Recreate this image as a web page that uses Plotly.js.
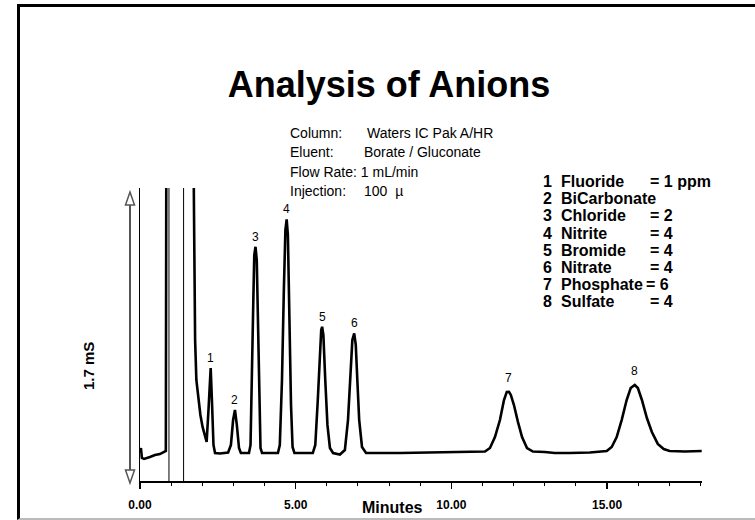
<!DOCTYPE html>
<html>
<head>
<meta charset="utf-8">
<script src="https://cdn.plot.ly/plotly-3.0.1.min.js"></script>
<style>
  html, body { margin: 0; padding: 0; background: #fff; }
  #wrap { position: relative; width: 755px; height: 520px; }
  #chart { width: 755px; height: 520px; }
  #frame { position: absolute; left: 17px; top: 4px; width: 738px; height: 516px;
           border-left: 3px solid #000; border-top: 3px solid #000; border-bottom: 2px solid #bbb;
           box-sizing: border-box; pointer-events: none; }
</style>
</head>
<body>
<div id="wrap"><div id="chart"></div><div id="frame"></div></div>
<script>
// ---- data (minutes, mS) ----
const time = [0, 0.03, 0.06, 0.13, 0.32, 0.48, 0.64, 0.80, 0.83, 0.85,
  1.70, 1.73, 1.75, 1.77, 1.81, 1.87, 1.94, 2.01, 2.09, 2.14,
  2.20, 2.27, 2.31, 2.36, 2.41, 2.57, 2.83,
  2.92, 2.99, 3.05, 3.11, 3.18, 3.24, 3.50,
  3.55, 3.60, 3.64, 3.67, 3.71, 3.75, 3.79, 3.82, 3.87, 3.92, 4.43,
  4.49, 4.56, 4.62, 4.67, 4.71, 4.75, 4.80, 4.85, 4.90, 4.96, 5.55,
  5.63, 5.71, 5.78, 5.82, 5.85, 5.89, 5.95, 6.02, 6.10, 6.20, 6.42,
  6.58, 6.68, 6.76, 6.82, 6.88, 6.93, 6.98, 7.04, 7.13, 7.26,
  8.35, 9.63, 10.59, 11.08,
  11.24, 11.40, 11.56, 11.69, 11.78, 11.85, 11.91, 12.01, 12.14, 12.27, 12.43, 12.62,
  13.00, 13.32, 13.80, 14.45, 14.99,
  15.15, 15.31, 15.47, 15.63, 15.76, 15.89, 15.99, 16.12, 16.28, 16.44, 16.63, 16.82, 17.01,
  17.50, 18.04];
const signal = [0.166, 0.196, 0.137, 0.131, 0.143, 0.154, 0.160, 0.172, 0.178, 2.5,
  2.5, 1.70, 1.312, 0.837, 0.600, 0.499, 0.392, 0.321, 0.255, 0.232,
  0.422, 0.671, 0.481, 0.214, 0.166, 0.163, 0.169,
  0.214, 0.362, 0.422, 0.333, 0.196, 0.166, 0.166,
  0.214, 0.600, 1.075, 1.342, 1.391, 1.312, 0.956, 0.481, 0.196, 0.166, 0.166,
  0.214, 0.600, 1.134, 1.490, 1.554, 1.461, 0.956, 0.451, 0.202, 0.166, 0.166,
  0.214, 0.481, 0.778, 0.897, 0.916, 0.867, 0.600, 0.333, 0.196, 0.166, 0.157,
  0.184, 0.362, 0.659, 0.837, 0.877, 0.808, 0.600, 0.362, 0.202, 0.166,
  0.166, 0.172, 0.175, 0.175,
  0.196, 0.261, 0.362, 0.481, 0.529, 0.530, 0.511, 0.451, 0.350, 0.261, 0.196, 0.175,
  0.172, 0.166, 0.166, 0.169, 0.178,
  0.202, 0.261, 0.362, 0.481, 0.552, 0.570, 0.552, 0.481, 0.374, 0.291, 0.220, 0.190, 0.178,
  0.175, 0.178];

const peakTimes   = [2.27, 3.05, 3.71, 4.71, 5.85, 6.88, 11.85, 15.89];
const peakSignals = [0.671, 0.422, 1.391, 1.554, 0.916, 0.877, 0.530, 0.570];
const peakLabels  = ['1', '2', '3', '4', '5', '6', '7', '8'];

const markerTimes = [0.93, 1.40];

const tickVals = [0, 5, 10, 15];
const tickText = ['0.00', '5.00', '10.00', '15.00'];

const infoLabels = ['Column:', 'Eluent:', 'Flow Rate: 1 mL/min', 'Injection:'];
const infoValues = ['Waters IC Pak A/HR', 'Borate / Gluconate', '', '100  µ'];

const ionNums  = ['1', '2', '3', '4', '5', '6', '7', '8'];
const ionNames = ['Fluoride', 'BiCarbonate', 'Chloride', 'Nitrite', 'Bromide', 'Nitrate', 'Phosphate', 'Sulfate'];
const ionConc  = ['= 1 ppm', '', '= 2', '= 4', '= 4', '= 4', '= 6', '= 4'];

// ---- layout helpers (pixel -> paper) ----
const L = 140, R = 702, T = 188, B = 481;
const px = v => (v - L) / (R - L);
const py = v => (B - v) / (B - T);
const FONT = 'Liberation Sans, Arial, Helvetica, sans-serif';

const annotations = [];
peakTimes.forEach((t, i) => {
  annotations.push({x: t, y: peakSignals[i], xref: 'x', yref: 'y', text: peakLabels[i],
    showarrow: false, yanchor: 'bottom', yshift: i >= 6 ? 5 : 1,
    font: {family: FONT, size: 12, color: '#000'}});
});
infoLabels.forEach((s, i) => {
  const y = py(133 + 19.3 * i);
  annotations.push({x: px(288), y: y, xref: 'paper', yref: 'paper', text: s, showarrow: false,
    xanchor: 'left', yanchor: 'middle', font: {family: FONT, size: 14, color: '#000'}});
  if (infoValues[i]) {
    annotations.push({x: px(i === 0 ? 365 : 362), y: y, xref: 'paper', yref: 'paper', text: infoValues[i],
      showarrow: false, xanchor: 'left', yanchor: 'middle', font: {family: FONT, size: 14, color: '#000'}});
  }
});
ionNames.forEach((n, i) => {
  const y = py(181.7 + 17.1 * i);
  const f = {family: FONT, size: 16, color: '#000', weight: 'bold'};
  annotations.push({x: px(541), y: y, xref: 'paper', yref: 'paper', text: '<b>' + ionNums[i] + '</b>',
    showarrow: false, xanchor: 'left', yanchor: 'middle', font: f});
  annotations.push({x: px(559), y: y, xref: 'paper', yref: 'paper', text: '<b>' + n + '</b>',
    showarrow: false, xanchor: 'left', yanchor: 'middle', font: f});
  if (ionConc[i]) {
    annotations.push({x: px(i === 6 ? 644 : 648), y: y, xref: 'paper', yref: 'paper', text: '<b>' + ionConc[i] + '</b>',
      showarrow: false, xanchor: 'left', yanchor: 'middle', font: f});
  }
});
annotations.push({x: px(392), y: py(507), xref: 'paper', yref: 'paper', text: '<b>Minutes</b>',
  showarrow: false, xanchor: 'center', yanchor: 'middle', font: {family: FONT, size: 16, color: '#000'}});
annotations.push({x: px(88), y: py(366), xref: 'paper', yref: 'paper', text: '<b>1.7 mS</b>', textangle: -90,
  showarrow: false, xanchor: 'center', yanchor: 'middle', font: {family: FONT, size: 15, color: '#000'}});

const shapes = [];
markerTimes.forEach(t => shapes.push({type: 'line', xref: 'x', yref: 'paper', x0: t, x1: t, y0: 0, y1: 1,
  line: {color: '#000', width: 1}}));
// scale bar (double arrow)
const ax = 130, aw = 4.5, gray = '#555';
shapes.push({type: 'line', xref: 'paper', yref: 'paper', x0: px(ax), x1: px(ax), y0: py(205), y1: py(470),
  line: {color: gray, width: 2}});
shapes.push({type: 'path', xref: 'paper', yref: 'paper',
  path: `M ${px(ax)} ${py(192)} L ${px(ax - aw)} ${py(205)} L ${px(ax + aw)} ${py(205)} Z`,
  fillcolor: '#fff', line: {color: gray, width: 1.5}});
shapes.push({type: 'path', xref: 'paper', yref: 'paper',
  path: `M ${px(ax)} ${py(483)} L ${px(ax - aw)} ${py(470)} L ${px(ax + aw)} ${py(470)} Z`,
  fillcolor: '#fff', line: {color: gray, width: 1.5}});

const trace = {x: time, y: signal, type: 'scatter', mode: 'lines',
  line: {color: '#000', width: 2.6}, hoverinfo: 'skip'};

const layout = {
  width: 755, height: 520,
  margin: {l: L, r: 755 - R, t: T, b: 520 - B, pad: 0},
  paper_bgcolor: '#fff', plot_bgcolor: '#fff',
  showlegend: false,
  title: {text: '<b>Analysis of Anions</b>', x: 389 / 755, xanchor: 'center', xref: 'container',
    y: 1 - 84 / 520, yanchor: 'middle', yref: 'container',
    font: {family: FONT, size: 36, color: '#000'}},
  xaxis: {range: [0, 18.05], showgrid: false, zeroline: false, showline: true, linecolor: '#000', linewidth: 1.5,
    tickmode: 'array', tickvals: tickVals, ticktext: tickText, ticks: 'outside', ticklen: 6, tickwidth: 1.5,
    tickcolor: '#000', ticklabelstandoff: 6,
    tickfont: {family: FONT, size: 12, color: '#000', weight: 'bold'},
    minor: {dtick: 1, ticks: 'outside', ticklen: 3, tickwidth: 1, tickcolor: '#000', showgrid: false}},
  yaxis: {range: [0, 1.74], showgrid: false, zeroline: false, showline: true, linecolor: '#000', linewidth: 1,
    ticks: '', showticklabels: false},
  annotations: annotations,
  shapes: shapes
};

Plotly.newPlot('chart', [trace], layout, {staticPlot: true, displayModeBar: false});
</script>
</body>
</html>
